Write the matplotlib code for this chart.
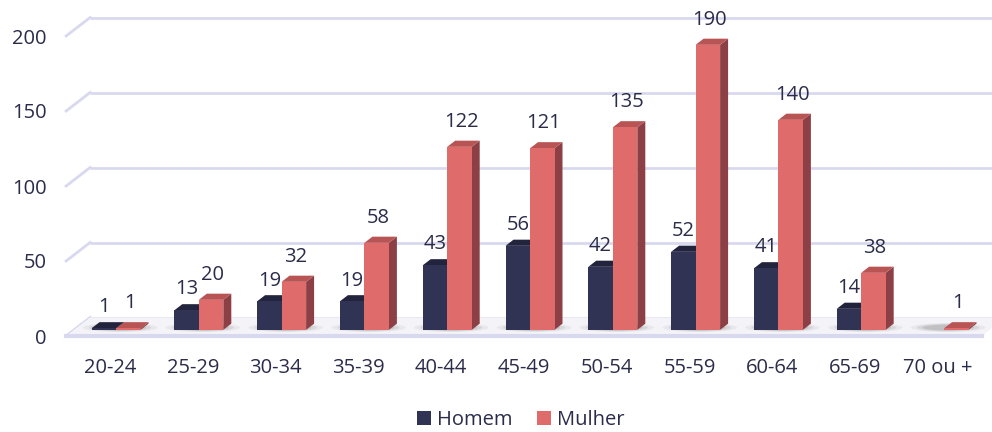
import numpy as np
import matplotlib.pyplot as plt
from matplotlib.patches import Polygon, Ellipse, Patch

plt.rcParams['font.family'] = ['Open Sans', 'DejaVu Sans']

# data
faixas = ["20-24", "25-29", "30-34", "35-39", "40-44", "45-49",
          "50-54", "55-59", "60-64", "65-69", "70 ou +"]
homem = [1, 13, 19, 19, 43, 56, 42, 52, 41, 14, 0]
mulher = [1, 20, 32, 58, 122, 121, 135, 190, 140, 38, 1]

txt = "#2a2c4a"
grid_c = "#d8d9ef"
c_h = {"front": "#313354", "top": "#22243d", "side": "#1b1d33"}
c_m = {"front": "#df6b6b", "top": "#b95454", "side": "#8c4045"}

fig = plt.figure(figsize=(9.92, 4.32), dpi=100)
px_x = 82.8          # pixels per category
px_y = 1.5           # pixels per unit
ax = fig.add_axes([65 / 992, 96 / 432, 927 / 992, 336 / 432])
ax.set_xlim(-45 / px_x, 882 / px_x)
ax.set_ylim(0, 336 / px_y)

# depth of the 3d box (full depth) in data units
DX = 24 / px_x
DY = 18.5 / px_y

# back wall gridlines + left diagonals
for v in [0, 50, 100, 150, 200]:
    ax.plot([-0.53 + DX, 11.0], [v + DY, v + DY], color=grid_c, lw=2,
            clip_on=False, zorder=1, solid_capstyle="butt")
    ax.plot([-0.53, -0.53 + DX], [v, v + DY], color=grid_c, lw=2,
            clip_on=False, zorder=1)

# floor
floor = Polygon([[-0.53, 0], [10.53, 0], [10.53 + DX, DY], [-0.53 + DX, DY]],
                closed=True, facecolor="#f4f4f8", edgecolor="none", zorder=1.5)
ax.add_patch(floor)
ax.plot([-0.53, 10.53], [0, 0], color=grid_c, lw=3, zorder=2, clip_on=False)

x = np.arange(len(faixas))
w = 24.5 / px_x
off = 6 / px_x
base = DY / 3
ddx = DX / 3
ddy = DY / 3

# shadows under the bars
for i in x:
    for a, h, al in [(0.9, 6, 0.08), (0.75, 5, 0.12), (0.62, 4, 0.18)]:
        ax.add_patch(Ellipse((i + off + 0.05, base + 1.5), a, h,
                             facecolor="#606060", alpha=al, edgecolor="none",
                             zorder=2))


def bar3d(x0, v, cols):
    x1 = x0 + w
    top = base + v
    ax.add_patch(Polygon([[x1, base], [x1, top], [x1 + ddx, top + ddy],
                          [x1 + ddx, base + ddy]], closed=True,
                         facecolor=cols["side"], edgecolor="none", zorder=3))
    ax.add_patch(Polygon([[x0, top], [x1, top], [x1 + ddx, top + ddy],
                          [x0 + ddx, top + ddy]], closed=True,
                         facecolor=cols["top"], edgecolor="none", zorder=3))
    ax.bar(x0, v, width=w, bottom=base, align="edge", color=cols["front"],
           zorder=4)


for i in x:
    if homem[i] > 0:
        bar3d(i + off - w, homem[i], c_h)
        ax.annotate(str(homem[i]), (i + off - w / 2, base + homem[i]),
                    xytext=(0, 15), textcoords="offset points", ha="center",
                    va="center", fontsize=14.5, color=txt)
    if mulher[i] > 0:
        bar3d(i + off, mulher[i], c_m)
        ax.annotate(str(mulher[i]), (i + off + w / 2 + 0.02, base + mulher[i]),
                    xytext=(0, 18), textcoords="offset points", ha="center",
                    va="center", fontsize=14.5, color=txt)

ax.set_xticks(x)
ax.set_xticklabels(faixas)
ax.set_yticks([0, 50, 100, 150, 200])
ax.tick_params(axis="x", length=0, pad=16, labelsize=14.5, labelcolor=txt)
ax.tick_params(axis="y", length=0, pad=13, labelsize=14.5, labelcolor=txt)
for s in ax.spines.values():
    s.set_visible(False)
ax.patch.set_alpha(0)

handles = [Patch(facecolor=c_h["front"], label="Homem"),
           Patch(facecolor=c_m["front"], label="Mulher")]
fig.legend(handles=handles, loc="lower center", bbox_to_anchor=(0.525, -0.038),
           ncol=2, frameon=False, fontsize=14.5, handlelength=0.7,
           handleheight=0.7, handletextpad=0.3, columnspacing=1.2,
           labelcolor=txt)

fig.savefig("out.png", dpi=100)
